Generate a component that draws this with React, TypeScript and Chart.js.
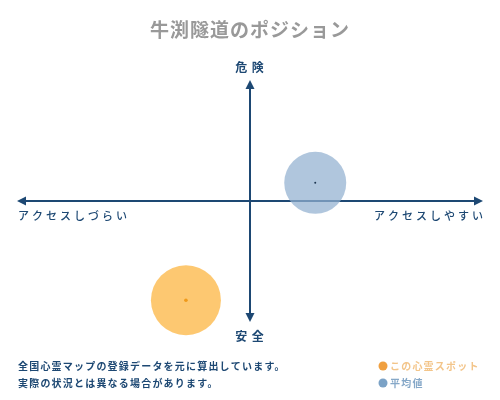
import React, { useEffect, useRef } from 'react';
import { Chart, registerables } from 'chart.js';

Chart.register(...registerables);

// position of the spot vs. the average (x: access, y: danger), r = bubble radius
const spotNames = ['この心霊スポット', '平均値'];
const spotX = [-2.75, 2.8];
const spotY = [-8.2, 1.5];
const spotR = [35, 31];

const title = '牛渕隧道のポジション';
const axisTop = '危 険';
const axisBottom = '安 全';
const axisLeft = 'アクセスしづらい';
const axisRight = 'アクセスしやすい';
const notes = ['全国心霊マップの登録データを元に算出しています。', '実際の状況とは異なる場合があります。'];

const NAVY = '#1d4873';
const FONT = '"Noto Sans CJK JP", "Noto Sans", sans-serif';

const fills = ['rgba(253, 190, 88, 0.85)', 'rgba(146, 176, 208, 0.72)'];
const dots = ['#f09a1a', '#1d3550'];
const legendDots = ['#f0a040', '#7ba2c6'];
const legendText = ['#f3c58a', '#86a8c8'];

const decorations = {
  id: 'decorations',
  beforeDatasetsDraw(chart: any) {
    const { ctx, scales } = chart;
    const cx = scales.x.getPixelForValue(0);
    const cy = scales.y.getPixelForValue(0);
    const left = scales.x.getPixelForValue(-10);
    const right = scales.x.getPixelForValue(10);
    const top = scales.y.getPixelForValue(10);
    const bottom = scales.y.getPixelForValue(-10);
    ctx.save();
    ctx.strokeStyle = NAVY;
    ctx.fillStyle = NAVY;
    ctx.lineWidth = 2;
    ctx.beginPath();
    ctx.moveTo(left + 4, cy);
    ctx.lineTo(right - 4, cy);
    ctx.moveTo(cx, top + 4);
    ctx.lineTo(cx, bottom - 4);
    ctx.stroke();
    const head = (x: number, y: number, dx: number, dy: number) => {
      const px = -dy, py = dx;
      ctx.beginPath();
      ctx.moveTo(x, y);
      ctx.lineTo(x - dx * 9 + px * 4.5, y - dy * 9 + py * 4.5);
      ctx.lineTo(x - dx * 9 - px * 4.5, y - dy * 9 - py * 4.5);
      ctx.closePath();
      ctx.fill();
    };
    head(left, cy, -1, 0);
    head(right, cy, 1, 0);
    head(cx, top, 0, -1);
    head(cx, bottom, 0, 1);

    ctx.textBaseline = 'middle';
    ctx.font = `bold 12px ${FONT}`;
    ctx.textAlign = 'center';
    ctx.letterSpacing = '1px';
    ctx.fillText(axisTop, cx, top - 13);
    ctx.fillText(axisBottom, cx, bottom + 14);

    ctx.font = `500 11px ${FONT}`;
    ctx.letterSpacing = '3px';
    ctx.textAlign = 'left';
    ctx.fillText(axisLeft, left + 1, cy + 15);
    ctx.textAlign = 'right';
    ctx.fillText(axisRight, right + 3, cy + 15);
    ctx.restore();
  },
  afterDatasetsDraw(chart: any) {
    const { ctx } = chart;
    ctx.save();
    chart.data.datasets.forEach((_: any, i: number) => {
      chart.getDatasetMeta(i).data.forEach((el: any) => {
        ctx.fillStyle = dots[i];
        ctx.beginPath();
        ctx.arc(el.x, el.y, i === 0 ? 1.8 : 1, 0, Math.PI * 2);
        ctx.fill();
      });
    });

    ctx.textBaseline = 'middle';
    ctx.fillStyle = '#999999';
    ctx.font = `bold 19px ${FONT}`;
    ctx.letterSpacing = '1px';
    ctx.textAlign = 'center';
    ctx.fillText(title, 250, 30);

    ctx.fillStyle = NAVY;
    ctx.font = `bold 10px ${FONT}`;
    ctx.letterSpacing = '1.2px';
    ctx.textAlign = 'left';
    notes.forEach((t, i) => ctx.fillText(t, 18, 366 + i * 17));

    spotNames.forEach((name, i) => {
      const y = 366 + i * 17;
      ctx.fillStyle = legendDots[i];
      ctx.beginPath();
      ctx.arc(383, y, 4.5, 0, Math.PI * 2);
      ctx.fill();
      ctx.fillStyle = legendText[i];
      ctx.fillText(name, 390, y);
    });
    ctx.restore();
  },
};

const App: React.FC = () => {
  const canvasRef = useRef<HTMLCanvasElement>(null);
  const chartRef = useRef<Chart | null>(null);

  useEffect(() => {
    if (!canvasRef.current) return;
    const ctx = canvasRef.current.getContext('2d');
    if (!ctx) return;

    chartRef.current = new Chart(ctx, {
      type: 'bubble',
      data: {
        datasets: spotNames.map((name, i) => ({
          label: name,
          data: [{ x: spotX[i], y: spotY[i], r: spotR[i] }],
          backgroundColor: fills[i],
          borderWidth: 0,
          clip: false as any,
        })),
      },
      options: {
        responsive: false,
        animation: false,
        layout: { autoPadding: false, padding: { left: 17, right: 17, top: 80, bottom: 78 } },
        plugins: {
          legend: { display: false },
          tooltip: { enabled: false },
          title: { display: false },
        },
        scales: {
          x: { display: false, min: -10, max: 10 },
          y: { display: false, min: -10, max: 10 },
        },
      },
      plugins: [decorations],
    });

    return () => {
      chartRef.current?.destroy();
      chartRef.current = null;
    };
  }, []);

  return (
    <div style={{ position: 'absolute', left: 0, top: 0, width: 500, height: 400, background: '#fff' }}>
      <canvas ref={canvasRef} width={500} height={400} />
    </div>
  );
};

export default App;
